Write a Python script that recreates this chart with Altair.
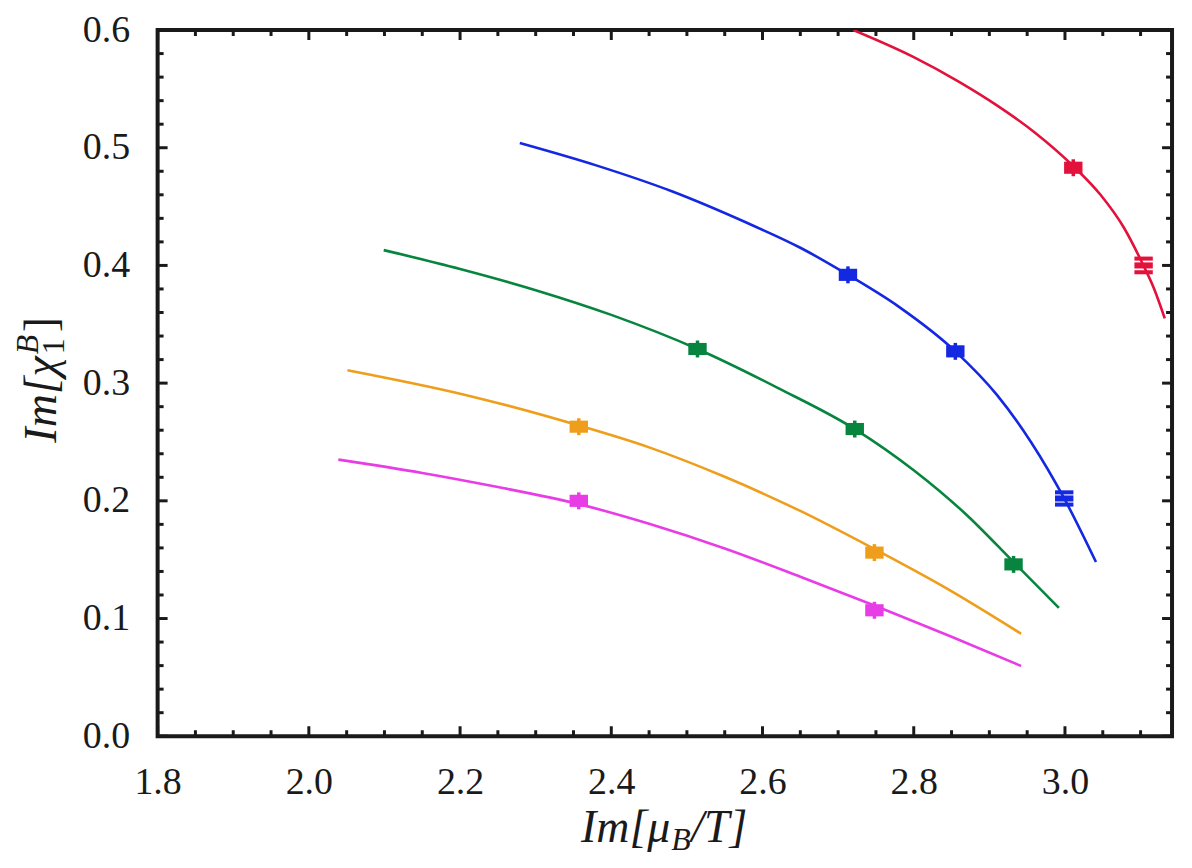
import math
import altair as alt
import pandas as pd

# ---------------- data ----------------
series_names = ["red", "blue", "green", "orange", "magenta"]
series_colors = ["#e2123c", "#1428e2", "#07853f", "#ef9e1c", "#e83ce6"]

red_x = [2.720, 2.800, 2.860, 2.910, 2.960, 3.010, 3.047, 3.078, 3.100, 3.118, 3.132]
red_y = [0.600, 0.577, 0.556, 0.536, 0.513, 0.485, 0.460, 0.432, 0.405, 0.380, 0.355]
blue_x = [2.279, 2.380, 2.480, 2.580, 2.650, 2.713, 2.780, 2.855, 2.910, 2.955, 2.999, 3.041]
blue_y = [0.504, 0.485, 0.463, 0.436, 0.415, 0.392, 0.365, 0.327, 0.290, 0.250, 0.202, 0.148]
green_x = [2.099, 2.200, 2.300, 2.400, 2.514, 2.620, 2.722, 2.800, 2.870, 2.932, 2.992]
green_y = [0.413, 0.397, 0.379, 0.358, 0.329, 0.296, 0.261, 0.226, 0.188, 0.148, 0.109]
orange_x = [2.051, 2.207, 2.357, 2.450, 2.550, 2.650, 2.748, 2.840, 2.942]
orange_y = [0.311, 0.290, 0.264, 0.2454, 0.2204, 0.1914, 0.159, 0.1268, 0.087]
magenta_x = [2.039, 2.150, 2.250, 2.357, 2.450, 2.550, 2.650, 2.748, 2.850, 2.942]
magenta_y = [0.235, 0.2237, 0.2117, 0.1972, 0.1805, 0.1595, 0.1355, 0.111, 0.0845, 0.0597]

pt_series = ["red", "red", "blue", "blue", "blue", "green", "green", "green",
             "orange", "orange", "magenta", "magenta"]
pt_x = [3.011, 3.104, 2.713, 2.855, 2.999, 2.514, 2.722, 2.932, 2.357, 2.748, 2.357, 2.748]
pt_y = [0.483, 0.400, 0.392, 0.327, 0.202, 0.329, 0.261, 0.146, 0.263, 0.156, 0.200, 0.107]
pt_err = [0.0072, 0.0058, 0.0072, 0.0072, 0.0052, 0.0072, 0.0072, 0.0072,
          0.0072, 0.0072, 0.0072, 0.0072]
pt_capped = [False, True, False, False, True, False, False, False,
             False, False, False, False]

x_major = [1.8, 2.0, 2.2, 2.4, 2.6, 2.8, 3.0]
x_minor = [1.85, 1.9, 1.95, 2.05, 2.1, 2.15, 2.25, 2.3, 2.35, 2.45, 2.5, 2.55,
           2.65, 2.7, 2.75, 2.85, 2.9, 2.95, 3.05, 3.1]
y_major = [0.0, 0.1, 0.2, 0.3, 0.4, 0.5, 0.6]
y_minor = [0.02, 0.04, 0.06, 0.08, 0.12, 0.14, 0.16, 0.18, 0.22, 0.24, 0.26, 0.28,
           0.32, 0.34, 0.36, 0.38, 0.42, 0.44, 0.46, 0.48, 0.52, 0.54, 0.56, 0.58]

# ---------------- tables ----------------
curve_rows = []
for name, xs, ys in [("red", red_x, red_y), ("blue", blue_x, blue_y),
                     ("green", green_x, green_y), ("orange", orange_x, orange_y),
                     ("magenta", magenta_x, magenta_y)]:
    for i, (a, b) in enumerate(zip(xs, ys)):
        curve_rows.append({"series": name, "x": a, "y": b, "order": i})
curves = pd.DataFrame(curve_rows)

pts = pd.DataFrame({"series": pt_series, "x": pt_x, "y": pt_y, "err": pt_err,
                    "capped": pt_capped})
pts["lo"] = pts["y"] - pts["err"]
pts["hi"] = pts["y"] + pts["err"]
plain = pts[~pts["capped"]]
capped = pts[pts["capped"]]

W, H = 1017, 708
FONT = "Liberation Serif"
INK = "#1a1a1a"

xscale = alt.Scale(domain=[1.8, math.pi], nice=False, zero=False)
yscale = alt.Scale(domain=[0.0, 0.6], nice=False, zero=False)
xaxis = alt.Axis(values=x_major, format=".1f", title=None, ticks=False, tickSize=0,
                 domain=False, grid=False, labelFont=FONT, labelFontSize=38,
                 labelColor=INK, labelPadding=27, labelFlush=False, labelOverlap=False)
yaxis = alt.Axis(values=y_major, format=".1f", title=None, ticks=False, tickSize=0,
                 domain=False, grid=False, labelFont=FONT, labelFontSize=38,
                 labelColor=INK, labelPadding=28, labelFlush=False, labelOverlap=False)


def X(f):
    return alt.X(f, type="quantitative", scale=xscale, axis=xaxis)


def Y(f):
    return alt.Y(f, type="quantitative", scale=yscale, axis=yaxis)


color = alt.Color("series:N", scale=alt.Scale(domain=series_names, range=series_colors),
                  legend=None)

lines = alt.Chart(curves).mark_line(strokeWidth=2.6, interpolate="monotone", clip=True).encode(
    x=X("x"), y=Y("y"), color=color, detail="series:N", order="order:Q")

err_rules = alt.Chart(plain).mark_rule(strokeWidth=3.5).encode(
    x=X("x"), y=Y("lo"), y2="hi", color=color)

RECT = "M-1,-0.66L1,-0.66L1,0.66L-1,0.66Z"
BAR_C = "M-1,-0.33L1,-0.33L1,0.33L-1,0.33Z"
BAR_E = "M-1,-0.22L1,-0.22L1,0.22L-1,0.22Z"

markers = alt.Chart(plain).mark_point(shape=RECT, filled=True, size=340, opacity=1,
                                      strokeWidth=0).encode(x=X("x"), y=Y("y"), color=color)
cap_mid = alt.Chart(capped).mark_point(shape=BAR_C, filled=True, size=340, opacity=1,
                                       strokeWidth=0).encode(x=X("x"), y=Y("y"), color=color)
cap_lo = alt.Chart(capped).mark_point(shape=BAR_E, filled=True, size=340, opacity=1,
                                      strokeWidth=0).encode(x=X("x"), y=Y("lo"), color=color)
cap_hi = alt.Chart(capped).mark_point(shape=BAR_E, filled=True, size=340, opacity=1,
                                      strokeWidth=0).encode(x=X("x"), y=Y("hi"), color=color)

# inward ticks on all four sides
xmaj = pd.DataFrame({"v": x_major})
xmin = pd.DataFrame({"v": x_minor})
ymaj = pd.DataFrame({"v": y_major})
ymin = pd.DataFrame({"v": y_minor})
tick_layers = []
for df, ln in [(xmaj, 10), (xmin, 6)]:
    tick_layers.append(alt.Chart(df).mark_rule(strokeWidth=3, color=INK).encode(
        x=X("v"), y=alt.value(H), y2=alt.value(H - ln)))
    tick_layers.append(alt.Chart(df).mark_rule(strokeWidth=3, color=INK).encode(
        x=X("v"), y=alt.value(0), y2=alt.value(ln)))
for df, ln in [(ymaj, 10), (ymin, 6)]:
    tick_layers.append(alt.Chart(df).mark_rule(strokeWidth=3, color=INK).encode(
        y=Y("v"), x=alt.value(0), x2=alt.value(ln)))
    tick_layers.append(alt.Chart(df).mark_rule(strokeWidth=3, color=INK).encode(
        y=Y("v"), x=alt.value(W), x2=alt.value(W - ln)))

# axis titles built from text pieces (subscripts / superscripts)
one = pd.DataFrame({"k": [0]})


def piece(text, x, y, size, align, dx=0, dy=0, angle=0, style="italic"):
    kw = dict(text=text, font=FONT, fontSize=size, fontStyle=style, color=INK,
              align=align, baseline="alphabetic", dx=dx, dy=dy)
    if angle:
        kw["angle"] = angle
    return alt.Chart(one).mark_text(**kw).encode(x=alt.value(x), y=alt.value(y))


XT_X, XT_Y = 514, 814
x_title = [
    piece("Im[μ", XT_X, XT_Y, 46, "right"),
    piece("B", XT_X, XT_Y, 32, "left", dx=1, dy=8),
    piece("/T]", XT_X, XT_Y, 46, "left", dx=21),
]
YT_X, YT_Y = -102, 327
y_title = [
    piece("Im[χ", YT_X, YT_Y, 46, "right", angle=270),
    piece("1", YT_X, YT_Y, 32, "left", dx=2, dy=8, angle=270, style="normal"),
    piece("B", YT_X, YT_Y, 32, "left", dx=2, dy=-18, angle=270),
    piece("]", YT_X, YT_Y, 46, "left", dx=24, angle=270, style="normal"),
]

chart = alt.layer(
    lines, err_rules, markers, cap_mid, cap_lo, cap_hi, *tick_layers, *x_title, *y_title
).properties(
    width=W, height=H,
    autosize=alt.AutoSizeParams(type="none"),
    padding={"left": 150, "top": 21, "right": 12, "bottom": 122},
    background="white",
).configure_view(stroke=INK, strokeWidth=4)

chart.save("out.html", embed_options={"renderer": "svg", "actions": False})
